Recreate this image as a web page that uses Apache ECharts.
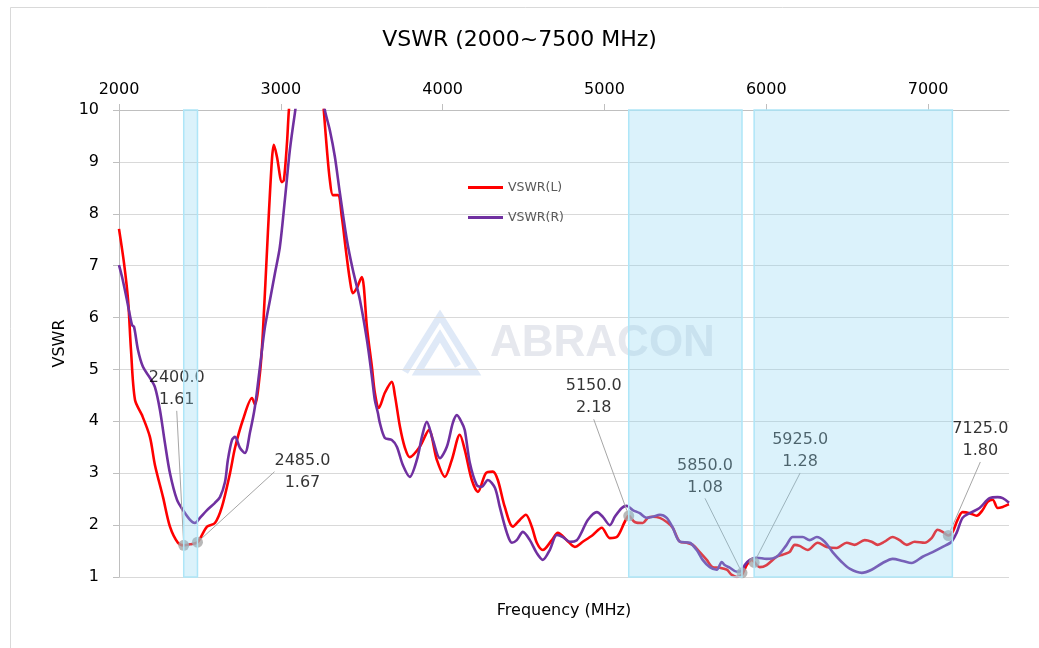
<!DOCTYPE html>
<html><head><meta charset="utf-8">
<script src="https://cdn.jsdelivr.net/npm/echarts@6/dist/echarts.min.js"></script>
<style>html,body{margin:0;padding:0;background:#fff}#c{width:1039px;height:648px}</style>
</head><body><div id="c"></div>
<script>
const freqL = [2000,2031,2056,2074,2099,2142,2191,2222,2272,2315,2364,2400,2440,2485,2544,2593,2636,2686,2717,2766,2822,2840,2871,2889,2920,2945,2957,2976,3007,3019,3038,3050,3080,3150,3230,3266,3285,3303,3322,3353,3377,3402,3427,3445,3470,3501,3513,3532,3563,3581,3606,3643,3686,3705,3736,3766,3797,3859,3915,3964,4014,4057,4106,4137,4180,4218,4267,4310,4341,4384,4434,4477,4514,4551,4582,4619,4675,4712,4767,4817,4866,4928,4983,5033,5076,5125,5150,5187,5237,5268,5299,5342,5385,5422,5466,5509,5546,5589,5632,5669,5712,5756,5787,5818,5849,5879,5910,5959,6002,6064,6101,6144,6176,6206,6256,6318,6373,6435,6497,6546,6608,6651,6688,6731,6781,6824,6868,6917,6979,7022,7059,7090,7125,7152,7182,7213,7257,7300,7337,7368,7399,7430,7461,7491,7500];
const vswrL = [7.71,7.05,6.34,5.38,4.41,4.12,3.70,3.16,2.54,1.97,1.66,1.61,1.63,1.67,1.97,2.04,2.35,3.00,3.49,4.03,4.45,4.32,4.93,5.70,7.63,9.04,9.33,9.10,8.61,8.65,9.36,10.0,11.0,12.5,11.5,9.98,9.23,8.65,8.36,8.36,7.94,7.30,6.72,6.47,6.57,6.78,6.59,5.82,5.05,4.55,4.26,4.55,4.76,4.50,3.90,3.50,3.31,3.51,3.83,3.26,2.93,3.26,3.74,3.45,2.87,2.64,3.00,3.03,2.87,2.35,1.97,2.10,2.20,1.97,1.66,1.52,1.71,1.85,1.71,1.58,1.68,1.81,1.95,1.75,1.77,2.06,2.18,2.06,2.04,2.14,2.16,2.14,2.06,1.95,1.68,1.66,1.62,1.48,1.33,1.19,1.18,1.14,1.04,1.00,1.04,1.23,1.33,1.19,1.23,1.39,1.43,1.48,1.62,1.60,1.52,1.66,1.58,1.56,1.66,1.62,1.71,1.68,1.62,1.68,1.77,1.71,1.62,1.68,1.66,1.75,1.91,1.87,1.80,1.87,2.10,2.25,2.23,2.18,2.29,2.45,2.49,2.33,2.35,2.39,2.40];
const freqR = [2000,2019,2049,2080,2093,2117,2148,2191,2222,2253,2284,2315,2358,2395,2439,2469,2500,2544,2593,2624,2655,2673,2698,2717,2747,2778,2809,2840,2871,2902,2933,2964,2994,3025,3056,3087,3120,3200,3250,3272,3303,3334,3365,3408,3445,3489,3532,3563,3581,3600,3612,3643,3686,3717,3754,3797,3841,3872,3902,3940,3983,4026,4063,4088,4119,4137,4168,4211,4242,4279,4323,4353,4397,4428,4458,4496,4539,4582,4619,4662,4706,4743,4786,4829,4860,4897,4953,4990,5033,5064,5107,5138,5175,5218,5261,5299,5342,5385,5422,5466,5527,5570,5607,5651,5694,5725,5743,5774,5818,5849,5867,5898,5941,6002,6064,6126,6163,6225,6268,6312,6361,6410,6466,6515,6590,6651,6719,6781,6843,6898,6966,7028,7090,7145,7176,7213,7257,7318,7380,7430,7461,7500];
const vswrR = [7.01,6.78,6.34,5.86,5.82,5.38,5.05,4.84,4.66,4.22,3.58,3.00,2.49,2.29,2.10,2.04,2.14,2.29,2.43,2.54,2.83,3.26,3.64,3.70,3.49,3.39,3.78,4.28,5.05,5.82,6.34,6.86,7.36,8.27,9.23,9.94,10.6,11.0,10.5,10.0,9.61,9.10,8.40,7.50,6.92,6.34,5.57,4.86,4.41,4.16,3.97,3.68,3.64,3.51,3.16,2.93,3.26,3.70,3.99,3.64,3.29,3.51,3.97,4.12,3.97,3.83,3.20,2.77,2.74,2.87,2.72,2.35,1.85,1.66,1.71,1.87,1.71,1.46,1.33,1.52,1.81,1.77,1.68,1.71,1.87,2.10,2.25,2.16,2.00,2.16,2.33,2.37,2.29,2.23,2.14,2.16,2.20,2.14,1.95,1.68,1.66,1.52,1.33,1.19,1.14,1.29,1.23,1.18,1.10,1.12,1.23,1.33,1.37,1.35,1.39,1.62,1.77,1.77,1.71,1.77,1.68,1.48,1.29,1.16,1.08,1.14,1.27,1.35,1.31,1.27,1.39,1.48,1.58,1.68,1.85,2.14,2.23,2.33,2.52,2.54,2.52,2.43];
const markFreq = [2400,2485,5150,5850,5925,7125];
const markVswr = [1.61,1.67,2.18,1.08,1.28,1.80];
const bandStart = [2400,5150,5925];
const bandEnd = [2485,5850,7150];
const xTickLabels = [2000,3000,4000,5000,6000,7000];

const FONT = 'DejaVu Sans';
const labelShift = [[-7,-124],[105,-38],[-35,-86],[-37,-64],[46,-79],[32,-63]];
const chart = echarts.init(document.getElementById('c'), null, {renderer:'canvas'});
const zip = (a,b) => a.map((v,i)=>[v,b[i]]);
const lineIcon = 'path://M0,0 L36,0 L36,3 L0,3 Z';
chart.setOption({
  animation:false,
  backgroundColor:'#fff',
  textStyle:{fontFamily:FONT},
  title:{text:'VSWR (2000~7500 MHz)', left:'center', top:24, textStyle:{fontFamily:FONT,fontSize:22,fontWeight:'normal',color:'#000'}},
  legend:{orient:'vertical', left:463, top:176, itemWidth:35, itemHeight:3, itemGap:17,
    textStyle:{fontFamily:FONT,fontSize:12.5,color:'#595959'},
    data:[{name:'VSWR(L)', icon:lineIcon},{name:'VSWR(R)', icon:lineIcon}]},
  grid:{left:119, right:30, top:110, bottom:71},
  graphic:[
    {type:'rect', left:8, top:5, z:-10, silent:true, shape:{width:1100,height:700}, style:{fill:'none', stroke:'#d9d9d9', lineWidth:1}},
    {type:'polyline', z:-5, silent:true, shape:{points:[[405,372],[440,316],[475,372],[418,372],[440,336],[458,366]]}, style:{stroke:'#dfe9f7', lineWidth:7, fill:'none'}},
    {type:'text', z:-5, silent:true, left:490, top:322, style:{text:'ABRACON', font:'bold 44px "Liberation Sans"', fill:'#e6e8ee'}}
  ],
  xAxis:[{
    type:'value', position:'top', min:2000, max:7500, interval:1000,
    axisLine:{show:true, lineStyle:{color:'#bfbfbf'}},
    axisTick:{show:true, length:6, lineStyle:{color:'#bfbfbf'}, customValues:xTickLabels},
    axisLabel:{fontFamily:FONT, fontSize:16, color:'#000', margin:12, customValues:xTickLabels, formatter:v=>String(v)},
    splitLine:{show:false}
  },{
    type:'value', position:'bottom', min:2000, max:7500,
    name:'Frequency (MHz)', nameLocation:'middle', nameGap:26,
    nameTextStyle:{fontFamily:FONT, fontSize:16, color:'#000'},
    axisLine:{show:false}, axisTick:{show:false}, axisLabel:{show:false}, splitLine:{show:false}
  }],
  yAxis:{
    type:'value', min:1, max:10, interval:1,
    name:'VSWR', nameLocation:'middle', nameGap:46,
    nameTextStyle:{fontFamily:FONT, fontSize:16, color:'#000'},
    axisLine:{show:true, lineStyle:{color:'#bfbfbf'}},
    axisTick:{show:true, length:6, lineStyle:{color:'#bfbfbf'}},
    axisLabel:{fontFamily:FONT, fontSize:16, color:'#000', margin:20},
    splitLine:{lineStyle:{color:'#d9d9d9', width:1}}
  },
  series:[
    {name:'VSWR(L)', type:'line', xAxisIndex:0, data:zip(freqL,vswrL), symbol:'none', smooth:0.3, z:2,
      lineStyle:{color:'#ff0000', width:2.6}, itemStyle:{color:'#ff0000'}},
    {name:'VSWR(R)', type:'line', xAxisIndex:0, data:zip(freqR,vswrR), symbol:'none', smooth:0.3, z:2,
      lineStyle:{color:'#7030a0', width:2.6}, itemStyle:{color:'#7030a0'}},
    {name:'marks', type:'scatter', xAxisIndex:0, data:zip(markFreq,markVswr), symbol:'circle', symbolSize:11, z:3,
      itemStyle:{color:'#a6a6a6'},
      label:{show:true, position:'top', distance:5, fontFamily:FONT, fontSize:16, lineHeight:22, color:'#000', align:'center',
        textBorderWidth:0, formatter:p=>p.value[0].toFixed(1)+'\n'+p.value[1].toFixed(2)},
      labelLayout:p=>({dx:labelShift[p.dataIndex][0], dy:labelShift[p.dataIndex][1]}),
      labelLine:{show:true, lineStyle:{color:'#a6a6a6', width:1}}},
    {name:'bands', type:'custom', xAxisIndex:0, silent:true, z:10,
      data:zip(bandStart,bandEnd), encode:{x:[0,1]},
      renderItem:(params, api)=>{
        const p0 = api.coord([api.value(0), 10]);
        const p1 = api.coord([api.value(1), 1]);
        return {type:'rect', shape:{x:p0[0], y:p0[1], width:p1[0]-p0[0], height:p1[1]-p0[1]},
          style:{fill:'rgba(135,212,243,0.3)', stroke:'#aee6f8', lineWidth:1.5}};
      }}
  ]
});
</script></body></html>
